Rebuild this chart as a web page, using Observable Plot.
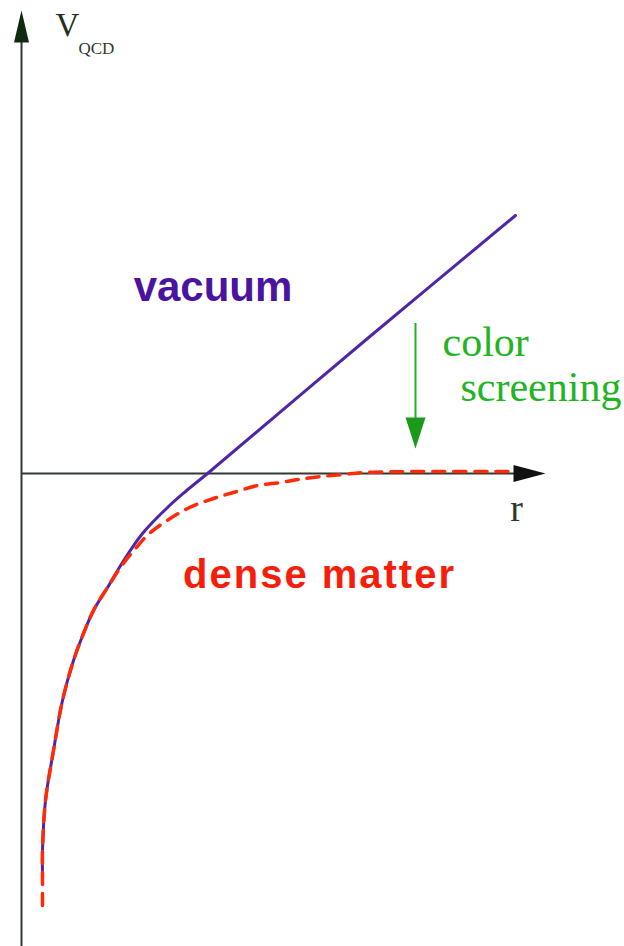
<!DOCTYPE html>
<html>
<head>
<meta charset="utf-8">
<script src="https://cdn.jsdelivr.net/npm/d3@7"></script>
<script src="https://cdn.jsdelivr.net/npm/@observablehq/plot@0.6"></script>
<style>
  html, body { margin: 0; padding: 0; background: #ffffff; }
  #chart svg { display: block; }
</style>
</head>
<body>
<div id="chart"></div>
<script>
// ---- data (r, V in arbitrary units) ----
const rVacuum = [0.21, 0.21, 0.24, 0.32, 0.41, 0.52, 0.62, 0.72, 0.86, 1.01, 1.21, 1.46, 1.64, 1.86, 3.46, 4.94];
const vVacuum = [-4.00, -3.77, -3.27, -2.77, -2.27, -1.87, -1.60, -1.37, -1.14, -0.89, -0.60, -0.34, -0.18, 0.00, 1.35, 2.58];

const rDense = [0.21, 0.21, 0.21, 0.24, 0.32, 0.41, 0.52, 0.62, 0.72, 0.86, 1.01, 1.14, 1.29, 1.66, 1.92, 2.12, 2.36, 2.59, 2.77, 2.99, 3.21, 3.44, 3.99, 4.94];
const vDense = [-4.32, -4.02, -3.77, -3.27, -2.77, -2.27, -1.87, -1.60, -1.37, -1.14, -0.91, -0.75, -0.59, -0.35, -0.25, -0.19, -0.12, -0.09, -0.06, -0.03, -0.01, 0.01, 0.02, 0.02];

// axes extents
const axisR = [0, 4.95];      // horizontal axis: r from origin to arrow base
const axisV = [-4.73, 4.33];  // vertical axis: V from bottom to arrow base
const arrowTipR = 5.24;       // tip of r-axis arrow
const arrowTipV = 4.63;       // tip of V-axis arrow

// color-screening arrow
const screenR = 3.94;
const screenV = [1.50, 0.50, 0.25]; // start, head base, tip

// labels
const labelText = ["vacuum", "dense matter", "color", "screening", "r"];
const labelR    = [1.915, 2.98, 4.21, 4.39, 4.95];
const labelV    = [1.73, -1.14, 1.18, 0.73, -0.47];
const yLabel = "V";
const ySub = "QCD";
const yLabelPos = [0.34, 4.38];
const ySubPos = [0.57, 4.20];

// ---- build tables ----
const vacuum = rVacuum.map((r, i) => ({r, v: vVacuum[i]}));
const dense = rDense.map((r, i) => ({r, v: vDense[i]}));
const labels = labelText.map((t, i) => ({t, r: labelR[i], v: labelV[i]}));

const axisColor = "#2f3a30";
const purple = "#5026a8";
const red = "#ff2a0a";
const green = "#22b422";

// arrowhead symbol: tip at anchor, pointing up
const arrowHead = (L, W) => ({
  draw(ctx) {
    ctx.moveTo(0, 0);
    ctx.lineTo(W / 2, L);
    ctx.lineTo(-W / 2, L);
    ctx.closePath();
  }
});

const serif = "'Liberation Serif', 'Times New Roman', serif";
const sans = "'Liberation Sans', Arial, sans-serif";

const chart = Plot.plot({
  width: 624,
  height: 946,
  margin: 0,
  x: {domain: [-0.21, 6.03], axis: null},
  y: {domain: [-4.73, 4.73], axis: null},
  style: {background: "#ffffff"},
  marks: [
    // axes
    Plot.ruleY([0], {x1: axisR[0], x2: axisR[1], stroke: axisColor, strokeWidth: 2}),
    Plot.ruleX([0], {y1: axisV[0], y2: axisV[1], stroke: axisColor, strokeWidth: 2}),
    Plot.dot([{r: arrowTipR, v: 0}], {x: "r", y: "v", symbol: arrowHead(32, 17), rotate: 90, fill: "#111", stroke: "none"}),
    Plot.dot([{r: 0, v: arrowTipV}], {x: "r", y: "v", symbol: arrowHead(32, 15), fill: "#0f2a10", stroke: "none"}),
    // curves
    Plot.line(vacuum, {x: "r", y: "v", curve: "catmull-rom", stroke: purple, strokeWidth: 3}),
    Plot.line(dense, {x: "r", y: "v", curve: "catmull-rom", stroke: red, strokeWidth: 3.5, strokeDasharray: "12,9"}),
    // color screening arrow
    Plot.ruleX([screenR], {y1: screenV[0], y2: screenV[1], stroke: green, strokeWidth: 2}),
    Plot.dot([{r: screenR, v: screenV[2]}], {x: "r", y: "v", symbol: arrowHead(31, 20), rotate: 180, fill: "#1a9a1a", stroke: "none"}),
    // labels
    Plot.text(labels.slice(0, 1), {x: "r", y: "v", text: "t", fill: "#4a14a0", fontSize: 42, fontWeight: "bold", fontFamily: sans, textAnchor: "middle", lineAnchor: "bottom"}),
    Plot.text(labels.slice(1, 2), {x: "r", y: "v", text: "t", fill: "#f51e0a", fontSize: 40, fontWeight: "bold", fontFamily: sans, textAnchor: "middle", lineAnchor: "bottom"}),
    Plot.text(labels.slice(2, 4), {x: "r", y: "v", text: "t", fill: green, fontSize: 42, fontFamily: serif, textAnchor: "start", lineAnchor: "bottom"}),
    Plot.text(labels.slice(4, 5), {x: "r", y: "v", text: "t", fill: "#2a3a2a", fontSize: 38, fontFamily: serif, textAnchor: "middle", lineAnchor: "bottom"}),
    Plot.text([yLabel], {x: () => yLabelPos[0], y: () => yLabelPos[1], text: d => d, fill: "#1f3020", fontSize: 33, fontFamily: serif, textAnchor: "start", lineAnchor: "bottom"}),
    Plot.text([ySub], {x: () => ySubPos[0], y: () => ySubPos[1], text: d => d, fill: "#2a3a2a", fontSize: 17, fontFamily: serif, textAnchor: "start", lineAnchor: "bottom"})
  ]
});

// slightly wider tracking for the bold "dense matter" label, as in the original
d3.select(chart).selectAll("text").filter(function () { return this.textContent === "dense matter"; })
  .style("letter-spacing", "2px");

document.getElementById("chart").appendChild(chart);
</script>
</body>
</html>
